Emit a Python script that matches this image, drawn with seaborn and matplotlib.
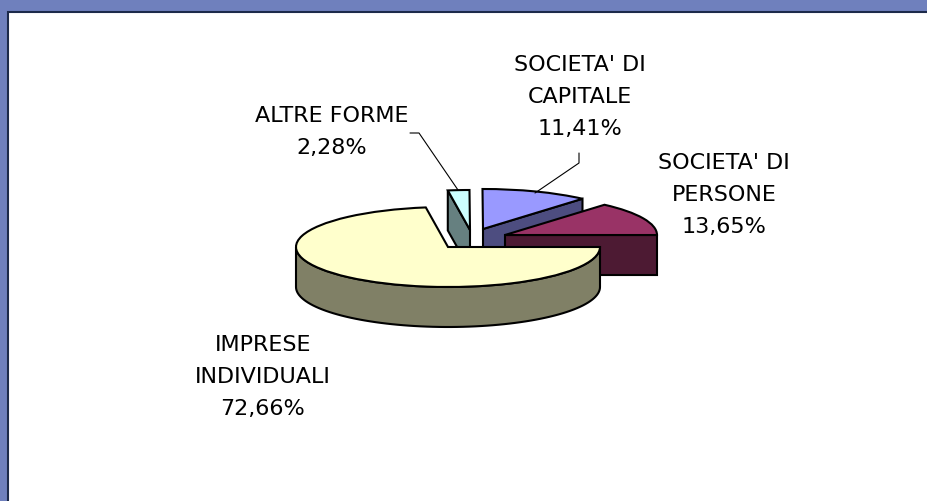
import numpy as np
import matplotlib
matplotlib.use("Agg")
import matplotlib.pyplot as plt
from matplotlib.patches import Polygon, Rectangle
import seaborn as sns

categories = ["IMPRESE\nINDIVIDUALI", "SOCIETA' DI\nPERSONE", "SOCIETA' DI\nCAPITALE", "ALTRE FORME"]
shares = [72.66, 13.65, 11.41, 2.28]
top_colors = ["#ffffcc", "#993366", "#9999ff", "#ccffff"]
side_colors = ["#808066", "#4d1a33", "#4d4d80", "#668080"]

W, H = 927, 501
RX, RY = 152, 40
DEPTH = 40
SQ = RX / RY  # y squash of the 3d look


def yy(py):
    return (H - py) * SQ


sns.set_theme(style="white")
plt.rcParams['font.family'] = ['DejaVu Sans']

fig = plt.figure(figsize=(W / 100, H / 100), dpi=100, facecolor="#6f80bd")
ax = fig.add_axes([0, 0, 1, 1])

wedges, _ = ax.pie(shares, colors=sns.color_palette(top_colors), startangle=98.4, radius=RX,
                   wedgeprops={"edgecolor": "black", "linewidth": 1.5})
ax.set_aspect("auto")
ax.set_xlim(0, W)
ax.set_ylim(0, H * SQ)
ax.set_frame_on(False)
ax.add_patch(Rectangle((8, -50), W, yy(12) + 50, fc="white", ec="#1c2a4a", lw=1.5, zorder=0))

# each slice is pulled away from the pie by a different amount
apex = [(448, 247), (505, 235), (483, 229), (470, 230)]
order = [2, 3, 1, 0]  # back to front


def arc_pts(cx, cy, a1, a2):
    t = np.radians(np.linspace(a1, a2, 80))
    return cx + RX * np.cos(t), cy + RX * np.sin(t)


z = 2
for i in order:
    w = wedges[i]
    cx, cy = apex[i][0], yy(apex[i][1])
    w.set_center((cx, cy))
    d = DEPTH * SQ
    if i == 0:
        # round outer wall, front half only
        xs, ys = arc_pts(cx, cy, 180, 360)
        pts = list(zip(xs, ys)) + list(zip(xs[::-1], ys[::-1] - d))
    else:
        # flat cut face; the small slice shows its left edge, the others the lower one
        a = w.theta2 if i == 3 else w.theta1
        ex, ey = arc_pts(cx, cy, a, a)
        ex, ey = ex[0], ey[0]
        pts = [(cx, cy), (ex, ey), (ex, ey - d), (cx, cy - d)]
    ax.add_patch(Polygon(pts, closed=True, fc=side_colors[i], ec="black", lw=1.5, zorder=z))
    w.set_zorder(z + 1)
    z += 2

label_pos = [(263, 377), (724, 195), (580, 97), (332, 132)]
for name, v, (px, py) in zip(categories, shares, label_pos):
    txt = name + "\n" + f"{v:.2f}".replace(".", ",") + "%"
    ax.text(px, yy(py), txt, ha="center", va="center", fontsize=16, color="black",
            linespacing=1.78, zorder=20)

# leader lines with their small elbow
ax.plot([410, 419, 458], [yy(133), yy(133), yy(190)], color="black", lw=0.8, zorder=20)
ax.plot([579, 579, 535], [yy(153), yy(163), yy(193)], color="black", lw=0.8, zorder=20)

fig.savefig("out.png", dpi=100, facecolor=fig.get_facecolor())
